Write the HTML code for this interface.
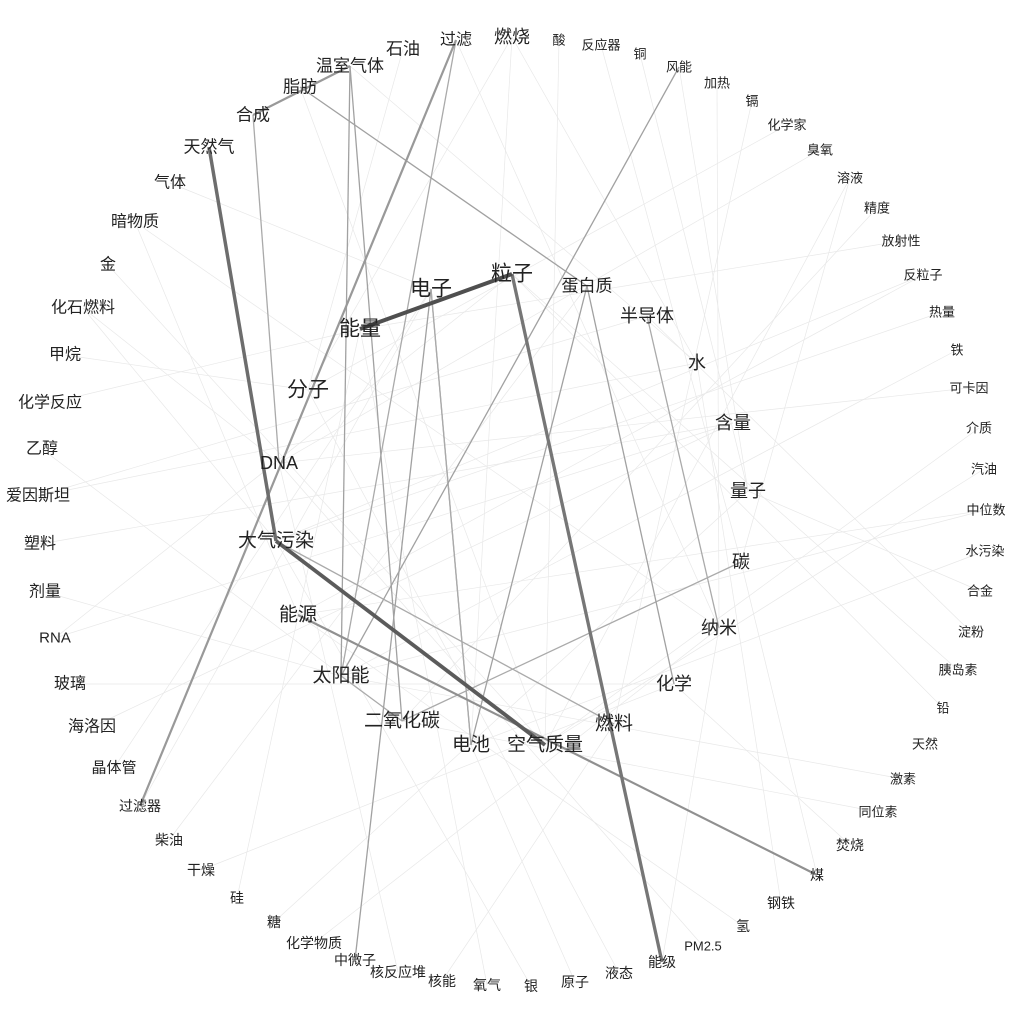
<!DOCTYPE html>
<html><head><meta charset="utf-8"><title>Network</title>
<style>
html,body{margin:0;padding:0;background:#fff;}
svg{display:block;font-family:"Liberation Sans","Noto Sans CJK SC",sans-serif;}
</style></head>
<body>
<svg id="chart" width="1024" height="1024" viewBox="0 0 1024 1024">
<g id="edges"></g>
<g id="nodes"></g>
</svg>
<script>
const nodeLabels=["过滤","燃烧","酸","反应器","铜","风能","加热","镉","化学家","臭氧","溶液","精度","放射性","反粒子","热量","铁","可卡因","介质","汽油","中位数","水污染","合金","淀粉","胰岛素","铅","天然","激素","同位素","焚烧","煤","钢铁","氢","PM2.5","能级","液态","原子","银","氧气","核能","核反应堆","中微子","化学物质","糖","硅","干燥","柴油","过滤器","晶体管","海洛因","玻璃","RNA","剂量","塑料","爱因斯坦","乙醇","化学反应","甲烷","化石燃料","金","暗物质","气体","天然气","合成","脂肪","温室气体","石油",
"粒子","电子","蛋白质","能量","半导体","水","分子","含量","DNA","量子","大气污染","碳","能源","纳米","太阳能","化学","二氧化碳","燃料","电池","空气质量"];
const nodeX=[456,512,559,601,640,679,717,752,787,820,850,877,901,923,942,957,969,979,984,986,985,980,971,958,943,925,903,878,850,817,781,743,703,662,619,575,531,487,442,398,355,314,274,237,201,169,140,114,92,70,55,45,40,38,42,50,65,83,108,135,170,209,253,300,350,403,
512,431,587,360,647,697,308,733,279,748,276,741,298,719,341,674,402,614,471,545];
const nodeY=[40,37,40,45,54,67,83,101,125,150,178,208,241,275,312,350,388,428,469,510,551,591,632,670,708,744,779,812,845,875,903,926,946,962,973,982,986,985,981,972,960,943,922,898,870,840,806,768,727,684,638,592,544,496,449,403,355,308,265,222,183,147,115,87,66,49,
274,289,286,329,316,363,390,423,463,491,541,562,615,628,676,684,721,724,745,745];
const nodeSize=[16,18,13,13,13,13,13,13,13,13,13,13,13,13,13,13,13,13,13,13,13,13,13,13,13,13,13,13,14,14,14,14,13,14,14,14,14,14,14,14,14,14,14,14,14,14,14,15,16,16,15,16,16,16,16,16,16,16,16,16,16,17,17,17,17,17,
21,21,17,21,18,18,21,18,18,18,19,18,19,18,19,18,19,19,19,19];
const edgeSrc=[69,61,76,66,0,0,62,64,64,63,5,78,68,68,40,67,80,77,70,67,76,62,
1,1,3,6,9,12,14,17,19,21,23,27,30,32,36,38,41,44,47,50,53,55,57,59,2,4,8,11,15,18,22,26,29,33,35,39,43,46,49,52,56,58,
0,1,5,7,10,13,16,20,24,28,31,34,37,42,45,48,51,54,62,63,64,65,57,59,60,50,53,13,10,19];
const edgeTgt=[66,76,85,33,46,80,74,80,82,68,80,29,81,84,67,84,82,82,79,84,83,64,
72,84,77,79,74,69,76,85,78,75,66,82,71,74,76,83,79,81,67,73,70,69,74,78,85,75,72,82,80,85,70,80,77,79,84,74,69,67,81,73,72,85,
79,71,75,83,77,76,74,84,66,81,78,72,69,75,68,73,80,82,74,85,71,72,76,79,67,66,71,78,85,80];
const edgeW=[0.92,0.75,0.85,0.7,0.5,0.4,0.4,0.45,0.45,0.45,0.45,0.55,0.45,0.45,0.45,0.4,0.4,0.4,0.4,0.4,0.4,0.5,
0.06,0.06,0.06,0.06,0.06,0.06,0.06,0.06,0.06,0.06,0.06,0.06,0.06,0.06,0.06,0.06,0.06,0.06,0.06,0.06,0.06,0.06,0.06,0.06,0.06,0.06,0.06,0.06,0.06,0.06,0.06,0.06,0.06,0.06,0.06,0.06,0.06,0.06,0.06,0.06,0.06,0.06,
0.06,0.06,0.06,0.06,0.06,0.06,0.06,0.06,0.06,0.06,0.06,0.06,0.06,0.06,0.06,0.06,0.06,0.06,0.06,0.06,0.06,0.06,0.06,0.06,0.06,0.06,0.06,0.06,0.06,0.06];
const NS="http://www.w3.org/2000/svg";
const gE=document.getElementById('edges'), gN=document.getElementById('nodes');
function xs(i){return nodeX[i];} function ys(i){return nodeY[i];}
const order=edgeW.map((w,i)=>i).sort((a,b)=>edgeW[a]-edgeW[b]);
order.forEach(i=>{
  const a=edgeSrc[i], b=edgeTgt[i], w=edgeW[i];
  if(a>=nodeLabels.length||b>=nodeLabels.length) return;
  const l=document.createElementNS(NS,'line');
  l.setAttribute('x1',xs(a));l.setAttribute('y1',ys(a));
  l.setAttribute('x2',xs(b));l.setAttribute('y2',ys(b));
  const g=w>0.2?Math.round(240-w*175):232;
  l.setAttribute('stroke',`rgb(${g},${g},${g})`);
  l.setAttribute('stroke-width',w>0.2?(w>0.6?(1+w*3.3):(w>=0.5?2.2:1.3)):0.7);
  
  
  gE.appendChild(l);
});
nodeLabels.forEach((lab,i)=>{
  const t=document.createElementNS(NS,'text');
  t.setAttribute('x',xs(i));t.setAttribute('y',ys(i));
  t.setAttribute('text-anchor','middle');t.setAttribute('dominant-baseline','central');
  t.setAttribute('font-size',nodeSize[i]);t.setAttribute('fill','#222');
  t.textContent=lab;
  
  
  gN.appendChild(t);
});
</script>
</body></html>
